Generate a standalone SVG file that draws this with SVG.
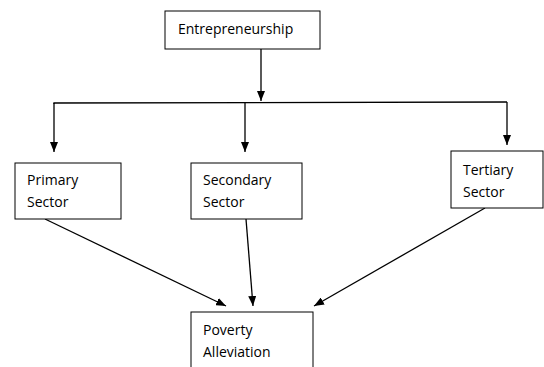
<svg xmlns="http://www.w3.org/2000/svg" width="544" height="367" viewBox="0 0 544 367">
<style>
.box{fill:#fff;stroke:#000;stroke-width:1}
.lbl{font-family:"Open Sans","Liberation Sans",Arial,sans-serif;font-size:14px;fill:#000}
.ln{stroke:#000;stroke-width:1.3;fill:none}
</style>
<defs>
<marker id="ah" markerWidth="10" markerHeight="8" refX="10" refY="4" orient="auto" markerUnits="userSpaceOnUse">
<path d="M0,0 L10,4 L0,8 Z" fill="#000"/>
</marker>
</defs>
<rect width="544" height="367" fill="#fff"/>
<g id="connectors">
<line class="ln" x1="261" y1="49" x2="261" y2="101" marker-end="url(#ah)"/>
<polyline class="ln" points="54,104 54,103 507,102"/>
<line class="ln" x1="54" y1="103" x2="54" y2="152" marker-end="url(#ah)"/>
<line class="ln" x1="245" y1="103" x2="245" y2="152" marker-end="url(#ah)"/>
<line class="ln" x1="507" y1="102" x2="507" y2="145" marker-end="url(#ah)"/>
<line class="ln" x1="45" y1="219" x2="226" y2="306" marker-end="url(#ah)"/>
<line class="ln" x1="246" y1="219" x2="253" y2="306" marker-end="url(#ah)"/>
<line class="ln" x1="485" y1="208" x2="314" y2="306" marker-end="url(#ah)"/>
</g>
<g id="entrepreneurship">
<rect class="box" x="165" y="11" width="155" height="38"/>
<text class="lbl" x="178" y="34">Entrepreneurship</text>
</g>
<g id="primary">
<rect class="box" x="15" y="163" width="106" height="56"/>
<text class="lbl" x="27" y="185">Primary</text>
<text class="lbl" x="27" y="207">Sector</text>
</g>
<g id="secondary">
<rect class="box" x="191" y="163" width="111" height="56"/>
<text class="lbl" x="203" y="185">Secondary</text>
<text class="lbl" x="203" y="207">Sector</text>
</g>
<g id="tertiary">
<rect class="box" x="451" y="151" width="92" height="57"/>
<text class="lbl" x="463" y="175">Tertiary</text>
<text class="lbl" x="463" y="197">Sector</text>
</g>
<g id="poverty">
<rect class="box" x="191" y="312" width="122" height="60"/>
<text class="lbl" x="203" y="335">Poverty</text>
<text class="lbl" x="203" y="357">Alleviation</text>
</g>
</svg>
